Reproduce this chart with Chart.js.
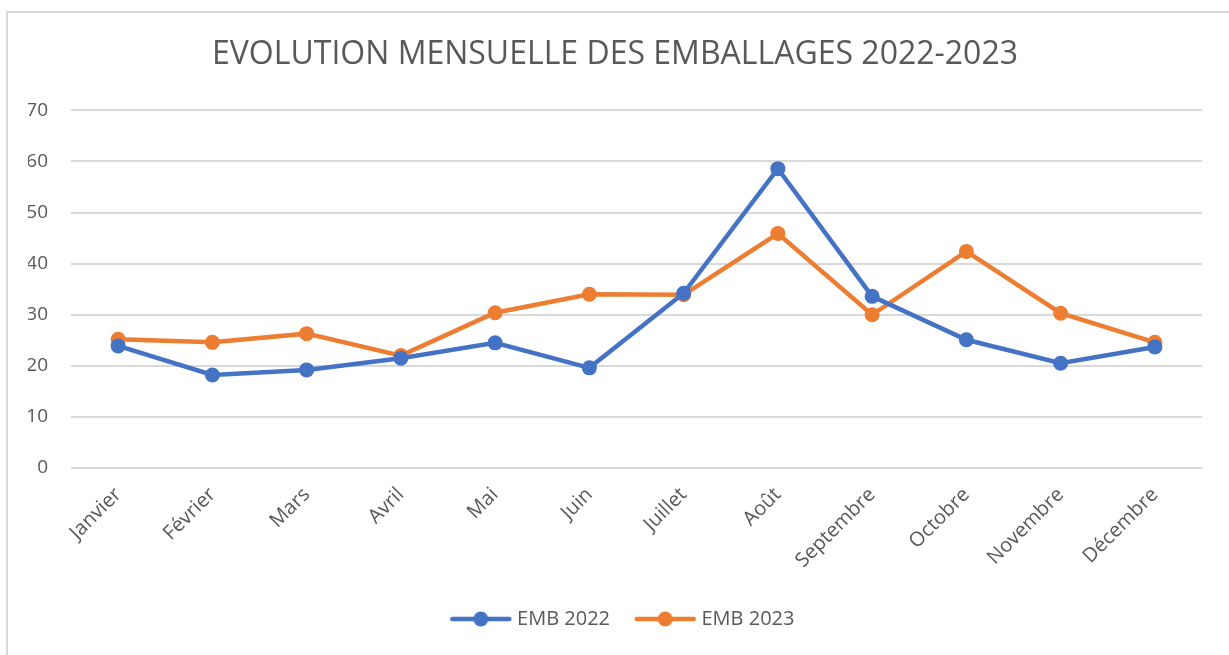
<!DOCTYPE html>
<html>
<head>
<meta charset="utf-8">
<script src="https://cdn.jsdelivr.net/npm/chart.js@4.4.1/dist/chart.umd.min.js"></script>
<style>
  html, body { margin: 0; padding: 0; background: #fff; }
  #frame {
    position: absolute; left: 6px; top: 11px;
    width: 1240px; height: 660px;
    border-left: 2px solid #d9d9d9; border-top: 2px solid #d9d9d9;
  }
  #wrap { position: absolute; left: 0; top: 0; width: 1229px; height: 655px; }
</style>
</head>
<body>
<div id="frame"></div>
<div id="wrap"><canvas id="chart"></canvas></div>
<script>
// Données
var mois = ["Janvier", "Février", "Mars", "Avril", "Mai", "Juin", "Juillet", "Août", "Septembre", "Octobre", "Novembre", "Décembre"];
var emb2022 = [23.9, 18.2, 19.2, 21.5, 24.5, 19.6, 34.2, 58.6, 33.6, 25.1, 20.5, 23.7];
var emb2023 = [25.2, 24.6, 26.3, 22.0, 30.4, 34.0, 33.9, 45.9, 30.0, 42.4, 30.3, 24.6];
var yTicks = [0, 10, 20, 30, 40, 50, 60, 70];

var textColor = '#595959';
var fontFam = "'Open Sans', sans-serif";

// petite icone ligne + point pour la légende (style Excel)
function legendIcon(color) {
  var c = document.createElement('canvas');
  c.width = 92; c.height = 20;
  var g = c.getContext('2d');
  g.strokeStyle = color;
  g.lineWidth = 4.5;
  g.lineCap = 'round';
  g.beginPath();
  g.moveTo(27, 10);
  g.lineTo(84, 10);
  g.stroke();
  g.fillStyle = color;
  g.beginPath();
  g.arc(55.5, 10, 7.5, 0, Math.PI * 2);
  g.fill();
  return c;
}

var ctx = document.getElementById('chart');

var chartData = {
  labels: mois,
  datasets: [{
    label: 'EMB 2022',
    data: emb2022,
    borderColor: '#4472C4',
    backgroundColor: '#4472C4',
    borderWidth: 4.5,
    pointRadius: 7.5,
    pointHoverRadius: 7.5,
    pointBorderWidth: 0,
    tension: 0
  }, {
    label: 'EMB 2023',
    data: emb2023,
    borderColor: '#ED7D31',
    backgroundColor: '#ED7D31',
    borderWidth: 4.5,
    pointRadius: 7.5,
    pointHoverRadius: 7.5,
    pointBorderWidth: 0,
    tension: 0
  }]
};

var chartOptions = {
  responsive: true,
  maintainAspectRatio: false,
  animation: false,
  layout: { padding: { left: 28, right: 27, top: 0, bottom: 16 } },
  plugins: {
    title: {
      display: true,
      text: 'EVOLUTION MENSUELLE DES EMBALLAGES 2022-2023',
      color: textColor,
      font: { family: fontFam, size: 32, weight: 'normal' },
      padding: { top: 36, bottom: 36 }
    },
    legend: {
      position: 'bottom',
      labels: {
        color: textColor,
        font: { family: fontFam, size: 20 },
        usePointStyle: true,
        pointStyleWidth: 71.5,
        padding: 10,
        generateLabels: function(chart) {
          var items = Chart.defaults.plugins.legend.labels.generateLabels(chart);
          items.forEach(function(it, i) {
            it.pointStyle = legendIcon(chart.data.datasets[i].borderColor);
          });
          return items;
        }
      }
    },
    tooltip: { enabled: false }
  },
  scales: {
    x: {
      offset: true,
      grid: { display: false },
      border: { display: false },
      ticks: {
        color: textColor,
        font: { family: fontFam, size: 20 },
        minRotation: 45,
        maxRotation: 45,
        padding: 7
      },
      afterFit: function(scale) { scale.height = 131; }
    },
    y: {
      min: 0,
      max: 70,
      border: { display: false },
      grid: { color: '#d9d9d9', lineWidth: 2, drawTicks: false },
      afterBuildTicks: function(scale) {
        scale.ticks = yTicks.map(function(v) { return { value: v }; });
      },
      ticks: {
        color: textColor,
        font: { family: fontFam, size: 19 },
        padding: 23
      },
      afterFit: function(scale) { scale.width = 43; }
    }
  }
};

new Chart(ctx, { type: 'line', data: chartData, options: chartOptions });
</script>
</body>
</html>
